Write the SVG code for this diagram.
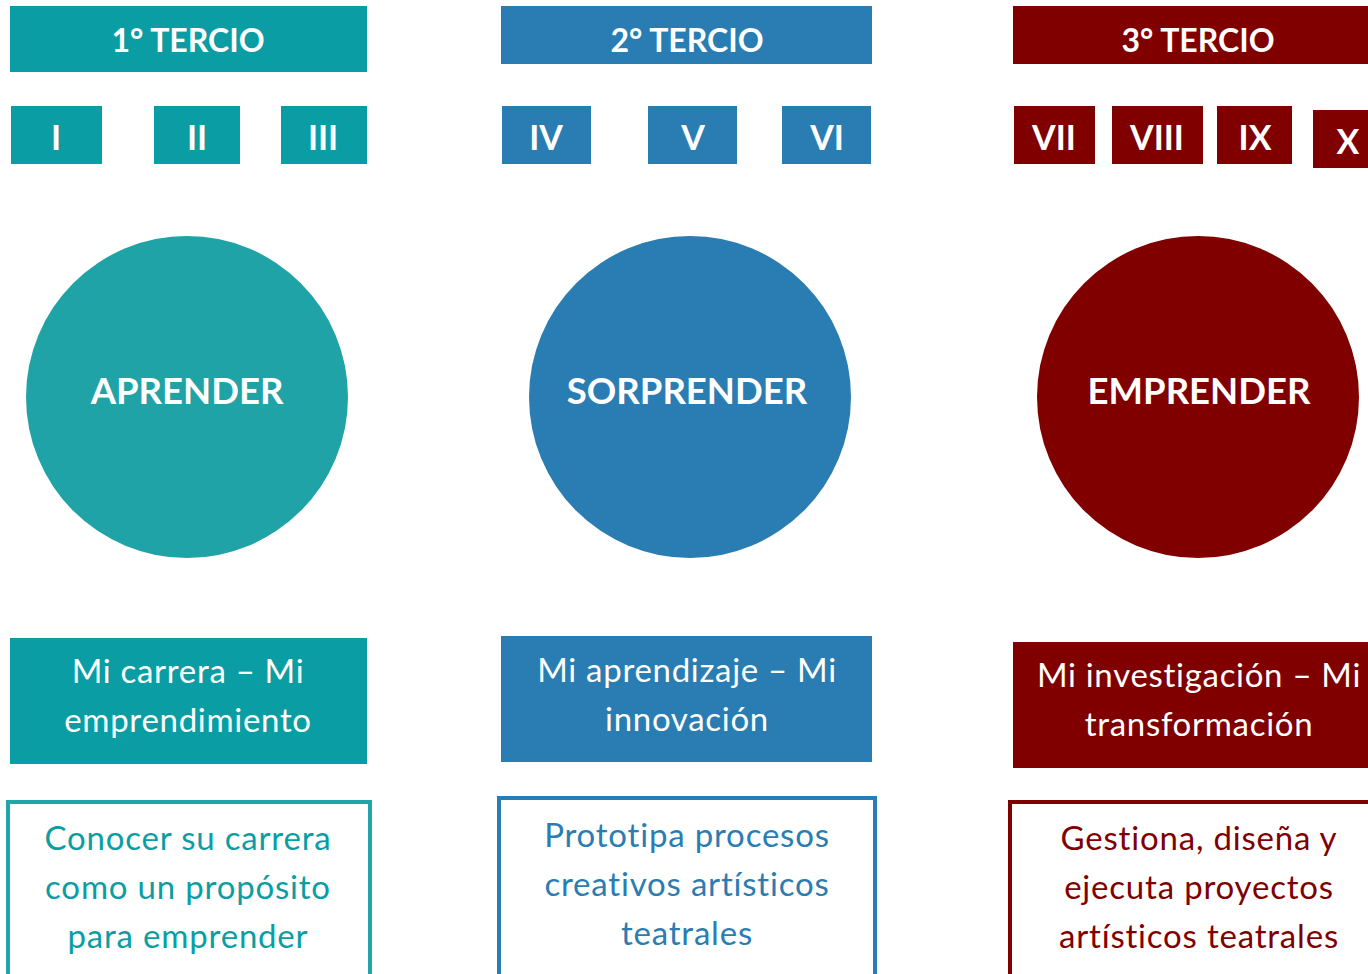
<svg xmlns="http://www.w3.org/2000/svg" width="1368" height="974" viewBox="0 0 1368 974">
<style>
text{font-family:Lato,"Open Sans","Liberation Sans",sans-serif;text-anchor:middle}
.h{font-weight:bold;font-size:32px;fill:#fff}
.r{font-size:34px;fill:#fff;font-weight:bold}
.c{font-weight:bold;font-size:36.5px;fill:#fff}
.b{font-size:33px;fill:#fff;letter-spacing:0.7px}
.o{font-size:33px;letter-spacing:0.8px}
.t1{fill:#0a9ea4}
.t2{fill:#2a7db2}
.t3{fill:#800000}
</style>
<rect width="1368" height="974" fill="#fff"/>
<g id="col1">
<g id="h1"><rect x="10" y="6" width="357" height="66" class="t1"/><text x="188" y="52" class="h">1° TERCIO</text></g>
<g id="r1"><rect x="11" y="106" width="91" height="58" class="t1"/><text x="56" y="150" class="r">I</text></g>
<g id="r2"><rect x="154" y="106" width="86" height="58" class="t1"/><text x="197" y="150" class="r">II</text></g>
<g id="r3"><rect x="281" y="106" width="86" height="58" class="t1"/><text x="323" y="150" class="r">III</text></g>
<g id="c1"><circle cx="187" cy="397" r="161" fill="#1fa3a6"/><text x="187" y="404" class="c">APRENDER</text></g>
<g id="b1"><rect x="10" y="638" width="357" height="126" class="t1"/><text x="188" y="683" class="b">Mi carrera – Mi</text><text x="188" y="732" class="b">emprendimiento</text></g>
<g id="o1"><rect x="8" y="802" width="362" height="190" fill="none" stroke="#20a6aa" stroke-width="4"/><text x="188" y="850" class="o t1"><tspan x="188">Conocer su carrera</tspan><tspan x="188" y="899">como un propósito</tspan><tspan x="188" y="948">para emprender</tspan></text></g>
</g>
<g id="col2">
<g id="h2"><rect x="501" y="6" width="371" height="58" class="t2"/><text x="687" y="52" class="h">2° TERCIO</text></g>
<g id="r4"><rect x="502" y="106" width="89" height="58" class="t2"/><text x="546" y="150" class="r">IV</text></g>
<g id="r5"><rect x="648" y="106" width="89" height="58" class="t2"/><text x="693" y="150" class="r">V</text></g>
<g id="r6"><rect x="782" y="106" width="89" height="58" class="t2"/><text x="827" y="150" class="r">VI</text></g>
<g id="c2"><circle cx="690" cy="397" r="161" fill="#2a7db2"/><text x="687" y="404" class="c">SORPRENDER</text></g>
<g id="b2"><rect x="501" y="636" width="371" height="126" class="t2"/><text x="687" y="682" class="b">Mi aprendizaje – Mi</text><text x="687" y="731" class="b">innovación</text></g>
<g id="o2"><rect x="499" y="798" width="376" height="190" fill="none" stroke="#2a7db2" stroke-width="4"/><text x="687" y="847" class="o t2"><tspan x="687">Prototipa procesos</tspan><tspan x="687" y="896">creativos artísticos</tspan><tspan x="687" y="945">teatrales</tspan></text></g>
</g>
<g id="col3">
<g id="h3"><rect x="1013" y="6" width="370" height="58" class="t3"/><text x="1198" y="52" class="h">3° TERCIO</text></g>
<g id="r7"><rect x="1014" y="106" width="81" height="58" class="t3"/><text x="1054" y="150" class="r">VII</text></g>
<g id="r8"><rect x="1112" y="106" width="91" height="58" class="t3"/><text x="1157" y="150" class="r">VIII</text></g>
<g id="r9"><rect x="1217" y="106" width="75" height="58" class="t3"/><text x="1255" y="150" class="r">IX</text></g>
<g id="r10"><rect x="1313" y="110" width="70" height="58" class="t3"/><text x="1348" y="154" class="r">X</text></g>
<g id="c3"><circle cx="1198" cy="397" r="161" fill="#800000"/><text x="1199" y="404" class="c">EMPRENDER</text></g>
<g id="b3"><rect x="1013" y="642" width="370" height="126" class="t3"/><text x="1199" y="687" class="b">Mi investigación – Mi</text><text x="1199" y="736" class="b">transformación</text></g>
<g id="o3"><rect x="1010" y="802" width="376" height="190" fill="none" stroke="#800000" stroke-width="4"/><text x="1199" y="850" class="o t3"><tspan x="1199">Gestiona, diseña y</tspan><tspan x="1199" y="899">ejecuta proyectos</tspan><tspan x="1199" y="948">artísticos teatrales</tspan></text></g>
</g>
<g id="connectors"/>
</svg>
